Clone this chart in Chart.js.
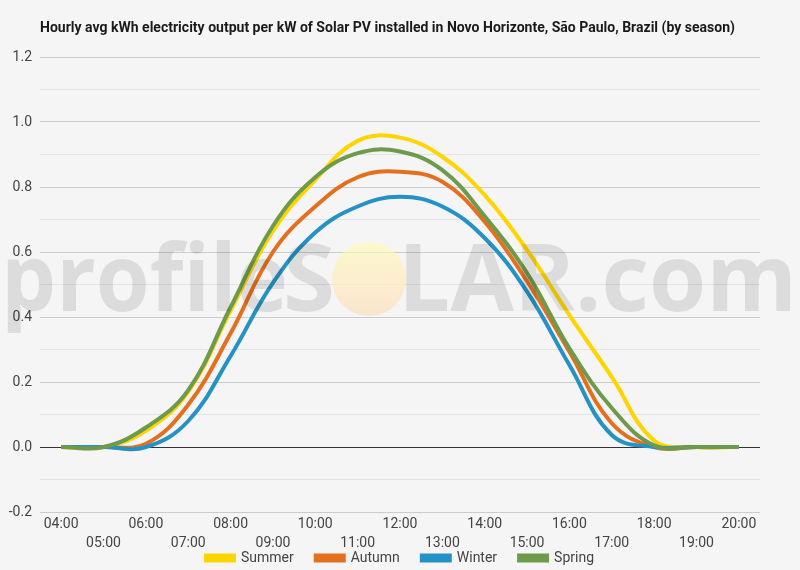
<!DOCTYPE html>
<html><head><meta charset="utf-8">
<script src="https://cdn.jsdelivr.net/npm/chart.js@4"></script>
<style>html,body{margin:0;padding:0;background:#f5f5f5;}canvas{display:block;}</style>
</head><body>
<canvas id="c" width="800" height="570"></canvas>
<script>
const titleText = 'Hourly avg kWh electricity output per kW of Solar PV installed in Novo Horizonte, São Paulo, Brazil (by season)';
const hours = ['04:00','05:00','06:00','07:00','08:00','09:00','10:00','11:00','12:00','13:00','14:00','15:00','16:00','17:00','18:00','19:00','20:00'];
const summer = [0, 0, 0.05, 0.17, 0.42, 0.665, 0.822, 0.942, 0.952, 0.893, 0.775, 0.606, 0.406, 0.216, 0.02, 0, 0];
const autumn = [0, 0, 0.01, 0.13, 0.35, 0.60, 0.74, 0.83, 0.847, 0.816, 0.693, 0.51, 0.293, 0.073, 0, 0, 0];
const winter = [0, 0, 0, 0.08, 0.28, 0.505, 0.66, 0.74, 0.77, 0.74, 0.643, 0.478, 0.252, 0.037, 0, 0, 0];
const spring = [0, 0, 0.06, 0.175, 0.43, 0.68, 0.83, 0.904, 0.909, 0.852, 0.71, 0.535, 0.304, 0.12, 0.005, 0, 0];
const seriesNames = ['Summer', 'Autumn', 'Winter', 'Spring'];
const seriesColors = ['#ffd500', '#e4701f', '#2592c5', '#6e9a4c'];
const seriesData = [summer, autumn, winter, spring];

const bgPlugin = {
  id: 'bg',
  beforeDraw(chart) {
    const ctx = chart.ctx;
    ctx.save();
    ctx.fillStyle = '#f5f5f5';
    ctx.fillRect(0, 0, chart.width, chart.height);
    ctx.font = 'bold 14px Roboto';
    const w = ctx.measureText(titleText).width;
    ctx.translate(40, 28);
    ctx.scale(695 / w, 1);
    ctx.fillStyle = '#1a1a1a';
    ctx.textBaseline = 'middle';
    ctx.fillText(titleText, 0, 0);
    ctx.restore();
  }
};

const watermarkPlugin = {
  id: 'watermark',
  afterDraw(chart) {
    const ctx = chart.ctx;
    ctx.save();
    ctx.font = 'bold 94px "Open Sans"';
    ctx.fillStyle = 'rgba(0,0,0,0.1)';
    ctx.textBaseline = 'alphabetic';
    const fit = (t, x0, x1, base) => {
      const w = ctx.measureText(t).width;
      ctx.save();
      ctx.translate(x0, base);
      ctx.scale((x1 - x0) / w, 1);
      ctx.fillText(t, 0, 0);
      ctx.restore();
    };
    fit('profile', 1, 288, 311);
    fit('S', 283, 335, 311);
    fit('LAR.com', 398, 797, 311);
    const g = ctx.createLinearGradient(0, 242, 0, 316);
    g.addColorStop(0, 'rgba(255,250,185,0.7)');
    g.addColorStop(1, 'rgba(252,222,190,0.7)');
    ctx.fillStyle = g;
    ctx.beginPath();
    ctx.arc(369, 279, 37, 0, Math.PI * 2);
    ctx.fill();
    ctx.restore();
  }
};

const legendFitPlugin = {
  id: 'legendFit',
  beforeInit(chart) {
    const lg = chart.legend;
    if (!lg) return;
    const orig = lg.fit;
    lg.fit = function () { orig.call(this); this.height = 41; };
  }
};

new Chart(document.getElementById('c'), {
  type: 'line',
  data: {
    labels: hours,
    datasets: seriesData.map((d, i) => ({
      label: seriesNames[i],
      data: d,
      borderColor: seriesColors[i],
      backgroundColor: seriesColors[i],
      borderWidth: 4,
      pointRadius: 0,
      pointHoverRadius: 0,
      tension: 0.4,
      fill: false,
      order: 4 - i
    }))
  },
  options: {
    responsive: false,
    animation: false,
    devicePixelRatio: 1,
    layout: { padding: { top: 57, right: 0, left: 0, bottom: 0 } },
    plugins: {
      legend: {
        position: 'bottom',
        labels: {
          boxWidth: 28, boxHeight: 5, padding: 22,
          color: '#444',
          font: { family: 'Roboto', size: 14 },
          sort: (a, b) => a.datasetIndex - b.datasetIndex
        }
      },
      title: { display: false },
      tooltip: { enabled: false }
    },
    scales: {
      x: {
        type: 'category',
        offset: true,
        grid: { display: false, drawTicks: false },
        border: { display: false },
        afterFit(s) { s.height = 17; s._computeLabelArea = function () { return undefined; }; },
        ticks: {
          autoSkip: false, maxRotation: 0, minRotation: 0, padding: 3,
          color: '#444',
          font: { family: 'Roboto', size: 14, lineHeight: 1.35 },
          callback(v, i) { const l = hours[i]; return i % 2 === 0 ? [l, ''] : ['', l]; }
        }
      },
      y: {
        min: -0.2, max: 1.2,
        afterFit(s) { s.width = 40; },
        border: { display: false },
        grid: {
          drawTicks: false,
          color(ctx) {
            const k = Math.round(ctx.tick.value * 10);
            if (k === 0) return '#333333';
            return k % 2 === 0 ? '#cccccc' : '#e3e3e3';
          },
          lineWidth: 1
        },
        ticks: {
          stepSize: 0.1, padding: 8,
          color: '#444',
          font: { family: 'Roboto', size: 14 },
          callback(v) { const k = Math.round(v * 10); return k % 2 === 0 ? (k / 10).toFixed(1) : ''; }
        }
      },
      yRight: {
        position: 'right',
        display: true,
        min: -0.2, max: 1.2,
        afterFit(s) { s.width = 40; },
        border: { display: false },
        grid: { display: false, drawTicks: false },
        ticks: { display: false }
      }
    }
  },
  plugins: [bgPlugin, legendFitPlugin, watermarkPlugin]
});
</script>
</body></html>
